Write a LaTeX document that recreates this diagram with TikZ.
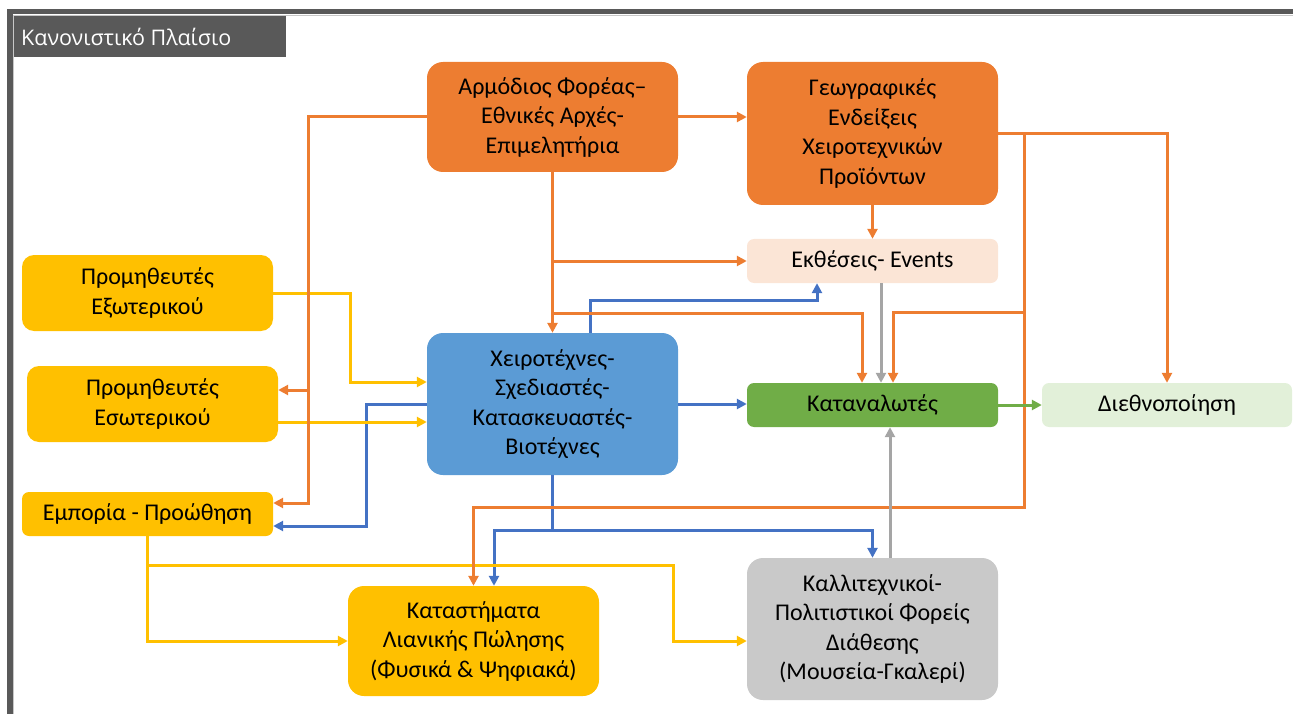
\documentclass[tikz,border=0pt]{standalone}
\usepackage{fontspec}
\setmainfont{Carlito}
\newfontfamily\titlefont{Open Sans}
\usetikzlibrary{arrows.meta}
\definecolor{cOr}{HTML}{ED7D31}
\definecolor{cBl}{HTML}{4472C4}
\definecolor{cBox}{HTML}{5B9BD5}
\definecolor{cYe}{HTML}{FFC000}
\definecolor{cGrL}{HTML}{A5A5A5}
\definecolor{cGrBox}{HTML}{C9C9C9}
\definecolor{cGn}{HTML}{70AD47}
\definecolor{cPeach}{HTML}{FBE5D6}
\definecolor{cLgn}{HTML}{E2F0D9}
\definecolor{cFrame}{HTML}{595959}
\tikzset{
  box/.style={draw=none, rectangle, rounded corners=16pt, inner sep=0pt, minimum width=251pt, align=center, text=black, font=\fontsize{24}{29.5}\selectfont},
  sbox/.style={box, rounded corners=7pt, minimum height=44pt},
  conn/.style={line width=3pt, -{Triangle[length=10pt,width=10pt]}},
  oc/.style={conn, draw=cOr}, bc/.style={conn, draw=cBl}, yc/.style={conn, draw=cYe},
  gc/.style={conn, draw=cGrL}, nc/.style={conn, draw=cGn},
}
\begin{document}
\begin{tikzpicture}[x=1pt,y=-1pt]
\useasboundingbox (0,0) rectangle (1293,714);
% frame
\fill[cFrame] (8,9) rectangle (1293,14.5);
\fill[cFrame] (7,9) rectangle (12.5,714);
\draw[black!22, line width=0.8pt] (13,15.4) -- (1293,15.4);
\draw[black!22, line width=0.8pt] (13.4,15) -- (13.4,714);
\node[fill=cFrame, minimum width=272pt, minimum height=41pt, inner sep=0pt, anchor=north west] (title) at (13.5,15.5) {};
\node[anchor=west, text=white, font=\titlefont\fontsize{21.5}{24}\selectfont, inner sep=0pt] (titletext) at (21,37) {Κανονιστικό Πλαίσιο};
% nodes
\node[box, fill=cOr, minimum height=110pt] (arm) at (552.5,117) {Αρμόδιος Φορέας–\\Εθνικές Αρχές-\\Επιμελητήρια};
\node[box, fill=cOr, minimum height=143pt] (geo) at (872.5,133.5) {Γεωγραφικές\\Ενδείξεις\\Χειροτεχνικών\\Προϊόντων};
\node[sbox, fill=cPeach] (ekth) at (872.5,261) {Εκθέσεις- Events};
\node[sbox, fill=cGn] (kat) at (872.5,405) {Καταναλωτές};
\node[sbox, fill=cLgn, minimum width=250pt] (die) at (1167,405) {Διεθνοποίηση};
\node[box, fill=cBox, minimum height=142pt] (xeir) at (552.5,404) {Χειροτέχνες-\\Σχεδιαστές-\\Κατασκευαστές-\\Βιοτέχνες};
\node[box, fill=cYe, minimum height=76pt, rounded corners=12pt] (pex) at (147.5,293) {Προμηθευτές\\Εξωτερικού};
\node[box, fill=cYe, minimum height=76pt, rounded corners=12pt] (pes) at (152.5,404) {Προμηθευτές\\Εσωτερικού};
\node[sbox, fill=cYe] (emp) at (147.5,514) {Εμπορία - Προώθηση};
\node[box, fill=cYe, minimum height=110pt] (kast) at (473.5,641) {Καταστήματα\\Λιανικής Πώλησης\\(Φυσικά \& Ψηφιακά)};
\node[box, fill=cGrBox, minimum height=142pt] (kall) at (872.5,629) {Καλλιτεχνικοί-\\Πολιτιστικοί Φορείς\\Διάθεσης\\(Μουσεία-Γκαλερί)};
% helper coordinates
\coordinate (oR) at (1024,133.5);
\coordinate (bD) at (552.5,530);
\coordinate (yD) at (147.5,565);
% blue
\draw[bc] ([xshift=37.5pt]xeir.north) |- (817,300) -- ([xshift=-55.5pt]ekth.south);
\draw[bc] (xeir.east) -- (xeir.east -| kat.west);
\draw[bc] (xeir.west) -| (366,526) -- ([yshift=-12pt]emp.east);
\draw[bc] (xeir.south) -- (bD) -| (kall.north);
\draw[bc] (bD) -| ([xshift=20.5pt]kast.north);
% yellow
\draw[yc] (pex.east) -| (350,382) -- ([yshift=22pt]xeir.west);
\draw[yc] ([yshift=-18pt]pes.east) -- ([yshift=-18pt]xeir.west);
\draw[yc] (emp.south) |- (kast.west);
\draw[yc] (yD) -| (673,641) -- ([yshift=-12pt]kall.west);
% orange
\draw[oc] (arm.west) -| (308,503) -- ([yshift=11pt]emp.east);
\draw[oc] (308,390) -- ([yshift=14pt]pes.east);
\draw[oc] (arm.east) -- (arm.east -| geo.west);
\draw[oc] (arm.south) -- (xeir.north);
\draw[oc] (arm.south |- ekth.west) -- (ekth.west);
\draw[oc] (552.5,313) -| ([xshift=-10.5pt]kat.north);
\draw[oc] (geo.south) -- (ekth.north);
\draw[oc] (geo.east) -| (die.north);
\draw[oc] (oR) -- (1024,507) -| (kast.north);
\draw[oc] (1024,312) -| ([xshift=20.5pt]kat.north);
% grey
\draw[gc] ([xshift=8.5pt]ekth.south) -- ([xshift=8.5pt]kat.north);
\draw[gc] ([xshift=17.5pt]kall.north) -- ([xshift=17.5pt]kat.south);
% green
\draw[nc] (kat.east) -- (die.west);
\end{tikzpicture}
\end{document}
